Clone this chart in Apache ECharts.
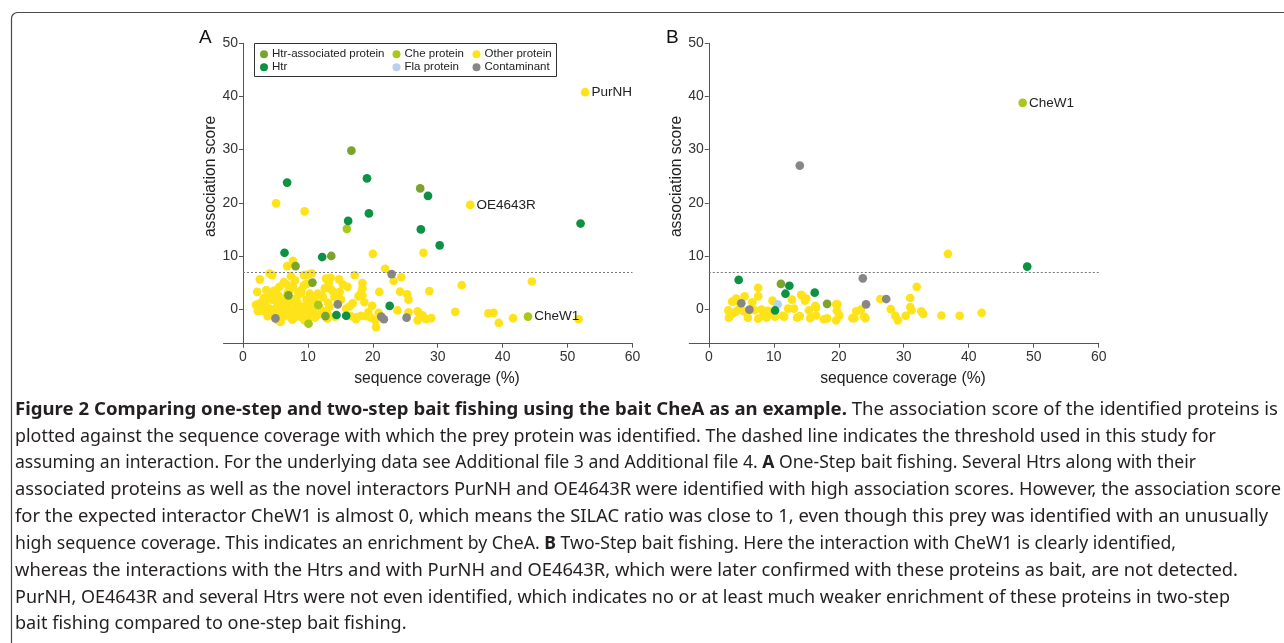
<!DOCTYPE html>
<html><head><meta charset="utf-8">
<script src="https://cdn.jsdelivr.net/npm/echarts@6/dist/echarts.min.js"></script>
<style>html,body{margin:0;padding:0;background:#fff}#c{width:1284px;height:643px}</style>
</head><body><div id="c"></div>
<script>
// ---------------- DATA ----------------
const categories = ['Htr-associated protein','Htr','Che protein','Fla protein','Other protein','Contaminant'];
const xTicks = [0,10,20,30,40,50,60];
const yTicks = [0,10,20,30,40,50];
const threshold = 7;

// Panel A: one-step bait fishing  [coverage %, association score, optional label]
const aOther = [
 [52.7,40.8,'PurNH'],[35.0,19.6,'OE4643R'],[5.1,19.9],[9.5,18.4],[20.0,10.4],[27.8,10.6],[7.7,9.1],[6.8,8.1],
 [21.9,7.6],[23.2,5.3],[24.4,6.0],[17.2,6.4],[24.2,3.3],[25.3,2.8],[25.5,1.8],[28.7,3.4],[33.7,4.5],[44.5,5.2],
 [51.7,-1.9],[41.6,-1.7],[39.4,-2.6],[38.6,-0.7],[37.8,-0.8],[32.7,-0.5],[23.8,-0.25],[25.5,-0.6],[26.9,-0.4],
 [27.2,-0.9],[27.7,-1.2],[28.2,-1.9],[29.0,-1.7],[26.9,-2.1],[20.5,-3.4],[20.4,-2.1],[19.7,-1.6],[19.0,-1.3],
 [18.2,-1.25],[17.4,-1.9],[20.9,-0.7],[19.9,0.6],[18.7,1.3],[18.4,2.6],[18.4,3.9],[18.4,4.9],[18.1,2.9],[21.0,3.25],
 [16.9,1.1],[15.9,0.1],[15.1,1.8],[14.9,3.25],[14.8,5.6],[15.4,4.6],[16.1,4.2],
 [2.2,3.25],[2.6,5.6],[4.1,6.7],[4.5,6.4],[2.6,1.1],[2.8,0.1],[2.3,-0.4],[3.8,-1.3],[4.1,0.1],[5.1,0.25],[5.4,-2.1],
 [5.4,2.6],[6.3,5.1],[5.9,0.75],[7.2,3.6],[7.7,4.2],[8.2,2.0],[8.5,3.25],[8.9,2.9],[9.4,4.5],[9.4,6.4],[10.0,6.5],
 [10.6,6.7],[10.3,2.9],[9.7,0.75],[9.5,-0.2],[8.7,-0.7],[8.2,-1.4],[7.2,-1.4],[6.7,-0.5],[6.3,1.1],[5.6,1.7],[4.9,2.4],
 [4.4,1.8],[4.0,2.9],[3.6,3.6],[3.3,1.4],[4.9,-0.5],[5.9,-0.8],[7.7,-0.2],[8.2,0.4],[9.1,-1.6],[9.5,-2.1],[10.9,-1.1],
 [11.3,-0.2],[11.9,-0.8],[11.5,-1.1],[12.3,2.2],[12.6,3.9],[12.8,5.75],[13.1,1.2],[13.1,-1.1],[13.3,0.4],[13.6,3.7],
 [13.9,3.25],[14.2,-1.4],[11.5,2.9],[12.1,2.6],[13.2,4.9],[13.5,5.9],[11.2,1.1],[10.7,0.75],
 [3.0,-0.3],[3.5,0.6],[4.6,-0.9],[5.2,1.4],[6.0,-1.6],[6.6,2.2],[7.0,0.3],[7.5,1.6],[7.9,-0.9],[8.4,1.2],[8.8,0.5],
 [9.0,3.6],[9.8,1.8],[10.2,-0.6],[11.0,2.2],[11.8,0.3],[12.4,-0.4],[6.8,4.6],[7.4,6.2],[8.0,5.4],[9.9,4.8],[5.6,4.2],
 [4.3,2.9],[2.0,0.8],[6.2,-1.1],[16.6,-1.3],[17.6,-1.5],[19.3,-0.6],[14.1,2.3],[16.4,0.5],[17.8,2.4],[13.0,-1.8],
 [10.0,-1.9],[7.6,-2.0],[5.8,-2.4],[11.1,-1.6],[6.9,3.1],[8.6,-0.1],[4.8,3.5],[3.2,2.1]
];
const aContaminant = [[22.9,6.6],[21.7,-1.9],[21.3,-1.4],[25.2,-1.6],[14.6,0.9],[5.0,-1.75]];
const aFla = [];
const aChe = [[16.0,15.1],[43.9,-1.4,'CheW1'],[11.6,0.8],[10.1,-2.75]];
const aHtrAssoc = [[16.7,29.8],[27.3,22.7],[13.6,10.0],[8.1,8.1],[10.7,5.0],[7.0,2.6],[12.7,-1.3]];
const aHtr = [[6.8,23.8],[19.1,24.6],[28.5,21.3],[19.4,18.0],[16.2,16.6],[27.4,15.0],[52.0,16.1],[30.3,12.0],
 [6.4,10.6],[12.2,9.8],[22.6,0.6],[14.4,-1.1],[15.9,-1.25]];

// Panel B: two-step bait fishing
const bOther = [
 [36.8,10.4],[32.0,4.2],[31.0,2.1],[31.0,0.4],[31.2,-0.2],[26.4,1.9],[28.0,0],[28.7,-1.25],[29.1,-2.1],[30.3,-1.25],
 [32.7,-0.4],[33.0,-0.9],[35.8,-1.2],[38.6,-1.25],[42.0,-0.7],[23.4,-0.1],[22.7,-0.4],[22.4,-1.7],[22.1,-1.7],[24.1,-1.7],
 [23.9,-1.4],[19.6,0.9],[19.7,-0.3],[19.6,-2.1],[20.1,-1.2],[18.2,-1.75],[17.7,-1.9],[16.5,0.3],[16.5,-1.2],[15.4,-0.25],
 [15.6,-1.7],[14.8,1.6],[14.2,2.7],[15.0,2.0],[13.1,0.1],[13.6,-1.6],[14.0,-1.3],[12.8,1.8],[12.2,0.1],[11.6,-1.4],
 [11.4,-1.25],[7.6,4.0],[7.6,2.4],[6.7,1.3],[5.5,2.4],[4.2,2.0],[3.6,1.4],[3.0,-0.25],[3.1,-1.6],[3.6,-0.9],[4.5,-0.2],
 [5.4,-0.4],[6.0,-1.6],[7.0,-0.2],[7.6,-1.8],[8.4,-1.3],[9.1,-0.3],[9.6,-1.0],[9.8,1.6],[10.2,-1.4],[8.1,-0.1],[8.9,-1.6],
 [8.5,-0.5],[4.1,-0.5],[4.0,1.5],[14.3,2.6],[16.4,0.6],[19.8,0.9]
];
const bContaminant = [[14.0,27.0],[23.7,5.8],[24.2,0.9],[27.3,1.9],[5.0,1.1],[6.25,-0.1]];
const bFla = [[10.6,0.9]];
const bChe = [[48.3,38.8,'CheW1']];
const bHtrAssoc = [[11.1,4.75],[18.2,1.0]];
const bHtr = [[49.0,8.0],[4.6,5.5],[12.4,4.4],[11.8,2.9],[16.3,3.1],[10.2,-0.25]];

// Caption text (segments: [text, bold])
const captionLines = [
 [['Figure 2 Comparing one-step and two-step bait fishing using the bait CheA as an example.',1],[' The association score of the identified proteins is',0]],
 [['plotted against the sequence coverage with which the prey protein was identified. The dashed line indicates the threshold used in this study for',0]],
 [['assuming an interaction. For the underlying data see Additional file 3 and Additional file 4. ',0],['A',1],[' One-Step bait fishing. Several Htrs along with their',0]],
 [['associated proteins as well as the novel interactors PurNH and OE4643R were identified with high association scores. However, the association score',0]],
 [['for the expected interactor CheW1 is almost 0, which means the SILAC ratio was close to 1, even though this prey was identified with an unusually',0]],
 [['high sequence coverage. This indicates an enrichment by CheA. ',0],['B',1],[' Two-Step bait fishing. Here the interaction with CheW1 is clearly identified,',0]],
 [['whereas the interactions with the Htrs and with PurNH and OE4643R, which were later confirmed with these proteins as bait, are not detected.',0]],
 [['PurNH, OE4643R and several Htrs were not even identified, which indicates no or at least much weaker enrichment of these proteins in two-step',0]],
 [['bait fishing compared to one-step bait fishing.',0]]
];

// ---------------- STYLE / LAYOUT ----------------
const colors = {
 'Htr-associated protein':'#7aa42c','Htr':'#0d9243','Che protein':'#a8c81c',
 'Fla protein':'#b5d3ee','Other protein':'#ffe31a','Contaminant':'#878787'
};
const FONT = '"Liberation Sans", Arial, Helvetica, sans-serif';
const CAP_FONT = '"Noto Sans", "Open Sans", "DejaVu Sans", sans-serif';
const CAP_SIZE = 17.5;
const captionLeft = 15;
// right ends of the justified-looking lines; null = last line, uses average condensing
const captionLineEnds = [1278,1216,1196,1281,1268,1176,1238,1230,null];
const captionCenters = [410,437,463.5,490,517,544,571,598,624.5];

const panelData = [
 {Other:aOther, Contaminant:aContaminant, Fla:aFla, Che:aChe, HtrAssoc:aHtrAssoc, Htr:aHtr},
 {Other:bOther, Contaminant:bContaminant, Fla:bFla, Che:bChe, HtrAssoc:bHtrAssoc, Htr:bHtr}
];
const drawOrder = [['Other protein','Other'],['Contaminant','Contaminant'],['Fla protein','Fla'],
 ['Che protein','Che'],['Htr-associated protein','HtrAssoc'],['Htr','Htr']];

const W = 1284;
const X_MIN = -3, X_MAX = 60, Y_MIN = -6.5, Y_MAX = 50;
const grids = [
 {left:223.5, right:651.5, top:43.3, bottom:299.3},
 {left:689.3, right:185.3, top:43.3, bottom:299.3}
];

function xAxisFor(i){
 return {gridIndex:i, type:'value', min:X_MIN, max:X_MAX,
  axisLine:{onZero:false, lineStyle:{color:'#555', width:1}},
  axisTick:{show:true, customValues:xTicks, length:4, lineStyle:{color:'#555'}},
  axisLabel:{customValues:xTicks, fontSize:14, color:'#333', margin:6, fontFamily:FONT},
  splitLine:{show:false},
  name:'sequence coverage (%)', nameLocation:'middle', nameGap:27,
  nameTextStyle:{fontSize:15.7, color:'#222', fontFamily:FONT, padding:[0,0,0,18]}
 };
}
function yAxisFor(i){
 const g = grids[i];
 const pxPerUnit = (W - g.left - g.right) / (X_MAX - X_MIN);
 return {gridIndex:i, type:'value', min:Y_MIN, max:Y_MAX,
  offset: X_MIN * pxPerUnit,
  axisLine:{onZero:false, lineStyle:{color:'#555', width:1}},
  axisTick:{show:true, customValues:yTicks, length:4, lineStyle:{color:'#555'}},
  axisLabel:{customValues:yTicks, fontSize:14, color:'#333', margin:5, fontFamily:FONT},
  splitLine:{show:false},
  name:'association score', nameLocation:'middle', nameGap:23,
  nameTextStyle:{fontSize:15.7, color:'#222', fontFamily:FONT, padding:[0,0,0,34]}
 };
}

const series = [];
panelData.forEach((pd, gi) => {
 drawOrder.forEach(([name, key], k) => {
  const s = {
   type:'scatter', name, xAxisIndex:gi, yAxisIndex:gi, data:pd[key],
   symbol:'circle', symbolSize:8.7,
   itemStyle:{color:colors[name], opacity:1},
   label:{show:true, position:'right', distance:2, fontSize:13.5, color:'#222', fontFamily:FONT,
     formatter:p => (p.value[2] ? p.value[2] : '')},
   emphasis:{disabled:true}, animation:false
  };
  if (k === 0) {
   s.markLine = {silent:true, symbol:'none', animation:false,
    lineStyle:{type:[2,2], color:'#777', width:1},
    label:{show:false},
    data:[[{coord:[0,threshold]},{coord:[60,threshold]}]]};
  }
  series.push(s);
 });
});

function legendCol(names, left){
 return {orient:'vertical', left, top:47.8, padding:0, itemGap:0,
  itemWidth:8, itemHeight:8, icon:'circle', data:names, selectedMode:false,
  textStyle:{fontSize:11.5, color:'#222', fontFamily:FONT, lineHeight:13, padding:[0,0,0,-1]}};
}

// caption graphics
const measureCtx = document.createElement('canvas').getContext('2d');
function capFont(b){ return (b ? 'bold ' : 'normal ') + CAP_SIZE + 'px ' + CAP_FONT; }
const measured = captionLines.map(segs => segs.map(([t,b]) => { measureCtx.font = capFont(b); return measureCtx.measureText(t).width; }));
const scales = measured.map((ws, li) => captionLineEnds[li] == null ? null : (captionLineEnds[li] - captionLeft) / ws.reduce((a,b)=>a+b,0));
const known = scales.filter(s => s != null);
const avgScale = known.reduce((a,b)=>a+b,0) / known.length;
const graphics = [];
captionLines.forEach((segs, li) => {
 const sc = scales[li] == null ? avgScale : scales[li];
 let x = captionLeft;
 segs.forEach(([t,b], si) => {
  graphics.push({type:'text', x, y:captionCenters[li], scaleX:sc, silent:true,
   style:{text:t, fontSize:CAP_SIZE, fontFamily:CAP_FONT, fontWeight:b?'bold':'normal',
     fill:'#231f20', textVerticalAlign:'middle', verticalAlign:'middle', textAlign:'left'}});
  x += measured[li][si] * sc;
 });
});
graphics.push({type:'rect', silent:true, shape:{x:11.5, y:12.5, width:1300, height:700, r:6},
 style:{fill:'none', stroke:'#4a4a4a', lineWidth:1.2}});
graphics.push({type:'rect', silent:true, shape:{x:254.5, y:43.5, width:302, height:33},
 style:{fill:'none', stroke:'#333', lineWidth:1}});
graphics.push({type:'text', x:199, y:38, silent:true,
 style:{text:'A', fontSize:19, fontFamily:FONT, fill:'#111', textVerticalAlign:'middle', verticalAlign:'middle'}});
graphics.push({type:'text', x:666, y:38, silent:true,
 style:{text:'B', fontSize:19, fontFamily:FONT, fill:'#111', textVerticalAlign:'middle', verticalAlign:'middle'}});

const chart = echarts.init(document.getElementById('c'), null, {renderer:'canvas'});
chart.setOption({
 backgroundColor:'#fff', animation:false,
 grid:grids,
 xAxis:[xAxisFor(0), xAxisFor(1)],
 yAxis:[yAxisFor(0), yAxisFor(1)],
 legend:[
  legendCol(['Htr-associated protein','Htr'], 260),
  legendCol(['Che protein','Fla protein'], 392.5),
  legendCol(['Other protein','Contaminant'], 472.5)
 ],
 series,
 graphic:graphics
});
</script>
</body></html>
